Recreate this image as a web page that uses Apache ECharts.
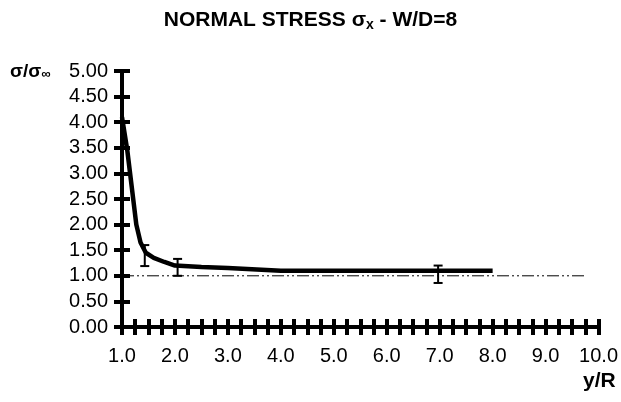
<!DOCTYPE html>
<html>
<head>
<meta charset="utf-8" />
<title>Normal stress</title>
<script src="https://cdn.jsdelivr.net/npm/echarts@6/dist/echarts.min.js"></script>
<style>
  html, body { margin: 0; padding: 0; background: #fff; }
  #main { width: 621px; height: 402px; }
</style>
</head>
<body>
<div id="main"></div>
<script>
// curve sigma/sigma_inf vs y/R
var curveX = [1.0, 1.1, 1.27, 1.35, 1.45, 1.6, 1.8, 2.0, 2.5, 3.0, 4.0, 5.0, 6.0, 7.0, 8.0];
var curveY = [4.1, 3.45, 2.0, 1.65, 1.45, 1.35, 1.27, 1.2, 1.17, 1.15, 1.1, 1.1, 1.1, 1.1, 1.1];
// error bars: position, low, high
var errX = [1.43, 2.05, 6.97];
var errLow = [1.19, 1.0, 0.86];
var errHigh = [1.6, 1.33, 1.2];
// reference line sigma = sigma_inf
var refX = [1.0, 9.75];
var refY = [1.0, 1.0];

var font = 'Liberation Sans, Arial, sans-serif';

var curve = [];
for (var i = 0; i < curveX.length; i++) curve.push([curveX[i], curveY[i]]);
var errs = [];
for (var i = 0; i < errX.length; i++) errs.push([errX[i], errLow[i], errHigh[i]]);
var ref = [];
for (var i = 0; i < refX.length; i++) ref.push([refX[i], refY[i]]);

var myChart = echarts.init(document.getElementById('main'));

// two copies of each axis so the ticks cross the axis line
function xAx(inside, show) {
  return {
    type: 'value', position: 'bottom', min: 1, max: 10, interval: 0.25,
    axisLine: { show: true, onZero: false, lineStyle: { color: '#000', width: 4 } },
    axisTick: { show: true, inside: inside, length: 8, lineStyle: { color: '#000', width: 4 } },
    axisLabel: {
      show: show, margin: 19, color: '#000', fontFamily: font, fontSize: 20,
      formatter: function (v) { return Math.abs(v - Math.round(v)) < 1e-6 ? v.toFixed(1) : ''; }
    },
    splitLine: { show: false }
  };
}
function yAx(inside, show) {
  return {
    type: 'value', position: 'left', min: 0, max: 5, interval: 0.5,
    axisLine: { show: true, onZero: false, lineStyle: { color: '#000', width: 4 } },
    axisTick: { show: true, inside: inside, length: 8, lineStyle: { color: '#000', width: 4 } },
    axisLabel: {
      show: show, margin: 14, color: '#000', fontFamily: font, fontSize: 20,
      formatter: function (v) { return v.toFixed(2); }
    },
    splitLine: { show: false }
  };
}

var option = {
  animation: false,
  backgroundColor: '#fff',
  title: {
    left: 'center', top: 4,
    text: 'NORMAL STRESS σ{s|x} - W/D=8',
    textStyle: {
      fontFamily: font, fontSize: 21, fontWeight: 'bold', color: '#000',
      rich: { s: { fontFamily: font, fontSize: 14, fontWeight: 'bold', color: '#000', verticalAlign: 'bottom', padding: [9, 0, 0, 0] } }
    }
  },
  graphic: [
    {
      type: 'text', left: 10, top: 62,
      style: {
        text: 'σ/σ{s|∞}',
        font: 'bold 19px ' + font, fill: '#000',
        rich: { s: { font: 'bold 13px ' + font, fill: '#000', padding: [6, 0, 0, 0] } }
      }
    },
    {
      type: 'text', left: 583, top: 371,
      style: { text: 'y/R', font: 'bold 21px ' + font, fill: '#000' }
    }
  ],
  grid: { left: 122, right: 18, top: 71, bottom: 75 },
  xAxis: [xAx(false, true), xAx(true, false)],
  yAxis: [yAx(false, true), yAx(true, false)],
  series: [
    {
      type: 'line', data: ref, symbol: 'none',
      lineStyle: { color: '#000', width: 1, type: [12, 3, 2, 3, 2, 3] }
    },
    {
      type: 'line', data: curve, symbol: 'none',
      lineStyle: { color: '#000', width: 4.5 }
    },
    {
      type: 'custom', data: errs,
      renderItem: function (params, api) {
        var top = api.coord([api.value(0), api.value(2)]);
        var bot = api.coord([api.value(0), api.value(1)]);
        var w = 4.5;
        var st = { stroke: '#000', lineWidth: 2 };
        return {
          type: 'group',
          children: [
            { type: 'line', shape: { x1: top[0], y1: top[1], x2: bot[0], y2: bot[1] }, style: st },
            { type: 'line', shape: { x1: top[0] - w, y1: top[1], x2: top[0] + w, y2: top[1] }, style: st },
            { type: 'line', shape: { x1: bot[0] - w, y1: bot[1], x2: bot[0] + w, y2: bot[1] }, style: st }
          ]
        };
      }
    }
  ]
};

myChart.setOption(option);
</script>
</body>
</html>
